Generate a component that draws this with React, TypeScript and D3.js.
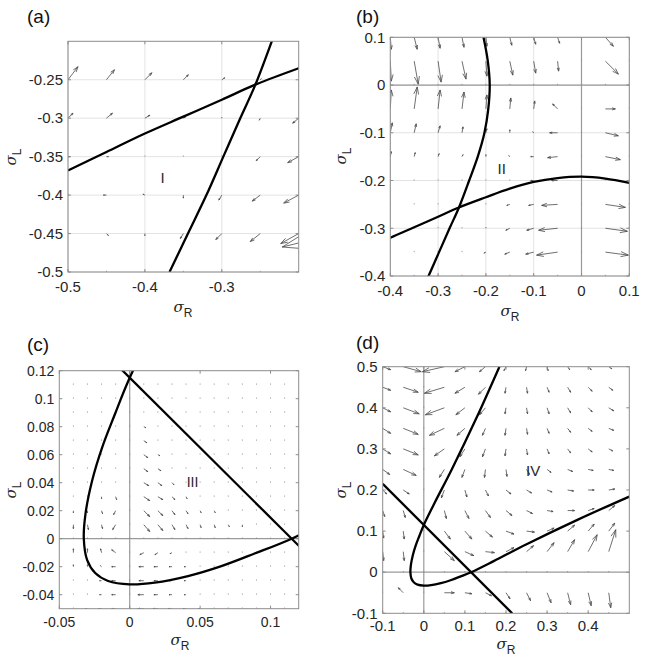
import React from 'react'
import * as d3 from 'd3'

// ---------- nullclines (sigma_R, sigma_L) ----------
const curveOne = [
  [-0.5, -0.368], [-0.45, -0.344], [-0.4, -0.32], [-0.35, -0.298], [-0.3, -0.276],
  [-0.258, -0.257], [-0.2, -0.235], [-0.15, -0.217], [-0.1, -0.203], [-0.05, -0.195],
  [0, -0.192], [0.05, -0.196], [0.1, -0.205],
]
const curveTwo = [
  [-0.368, -0.5], [-0.344, -0.45], [-0.32, -0.4], [-0.298, -0.35], [-0.276, -0.3],
  [-0.257, -0.258], [-0.235, -0.2], [-0.217, -0.15], [-0.203, -0.1], [-0.195, -0.05],
  [-0.192, 0], [-0.196, 0.05], [-0.205, 0.1],
]
const straightLine = [[-0.1, 0.215], [0.215, -0.1]]
const loopCurve = [
  [0.184, 0.5], [0.128, 0.375], [0.068, 0.25], [0.027, 0.17], [0, 0.115],
  [-0.0106, 0.0887], [-0.0196, 0.0651], [-0.0267, 0.0414], [-0.0314, 0.0178],
  [-0.0326, 0], [-0.0302, -0.0153], [-0.0245, -0.0245], [-0.0153, -0.0302],
  [0, -0.0326], [0.0178, -0.0314], [0.0414, -0.0267], [0.0651, -0.0196],
  [0.0887, -0.0106], [0.115, 0], [0.17, 0.027], [0.25, 0.068], [0.375, 0.128],
  [0.5, 0.184],
]

// ---------- quiver grids and arrows [sigma_R, sigma_L, dR, dL] ----------
const aGridR = [-0.5, -0.45, -0.4, -0.35, -0.3, -0.25, -0.2]
const aGridL = [-0.5, -0.45, -0.4, -0.35, -0.3, -0.25, -0.2]
const aArrows = [
  [-0.5, -0.25, 0.013, 0.017], [-0.45, -0.25, 0.0104, 0.013], [-0.4, -0.25, 0.0091, 0.0091],
  [-0.35, -0.25, 0.0065, 0.0065], [-0.3, -0.25, 0.0039, 0.0026], [-0.25, -0.25, 0.0013, 0.0013],
  [-0.2, -0.25, 0.0026, 0.0026],
  [-0.5, -0.3, 0.0065, 0.0065], [-0.45, -0.3, 0.0078, 0.0065], [-0.4, -0.3, 0.0065, 0.0039],
  [-0.35, -0.3, 0.0026, 0.0013], [-0.3, -0.3, 0.0008, 0], [-0.25, -0.3, -0.0013, -0.0026],
  [-0.2, -0.3, -0.0078, -0.0065],
  [-0.5, -0.35, 0.0026, 0], [-0.45, -0.35, 0.0026, 0], [-0.25, -0.35, -0.0052, -0.0052],
  [-0.2, -0.35, -0.0143, -0.0078],
  [-0.5, -0.4, -0.0013, 0], [-0.45, -0.4, -0.0039, 0], [-0.4, -0.4, -0.0026, 0.0013],
  [-0.35, -0.4, 0, -0.0039], [-0.3, -0.4, -0.0039, -0.0065], [-0.25, -0.4, -0.0104, -0.0078],
  [-0.2, -0.4, -0.0195, -0.0104],
  [-0.45, -0.45, 0.0026, -0.0026], [-0.4, -0.45, 0, -0.0026], [-0.35, -0.45, -0.0039, -0.0065],
  [-0.3, -0.45, -0.0078, -0.0078], [-0.25, -0.45, -0.013, -0.0104], [-0.2, -0.45, -0.0234, -0.013],
  [-0.15, -0.45, -0.0714, -0.0175],
]

const bGridR = [-0.4, -0.35, -0.3, -0.25, -0.2, -0.15, -0.1, -0.05, 0, 0.05, 0.1]
const bGridL = [-0.4, -0.35, -0.3, -0.25, -0.2, -0.15, -0.1, -0.05, 0, 0.05, 0.1]
const bArrows = [
  [-0.4, 0.1, 0.0021, -0.0251], [-0.35, 0.1, 0.0063, -0.0251], [-0.3, 0.1, 0.0042, -0.023],
  [-0.25, 0.1, 0.0042, -0.0209], [-0.2, 0.1, 0.0021, -0.0188], [-0.15, 0.1, 0.0042, -0.0167],
  [-0.1, 0.1, 0.0042, -0.0146], [-0.05, 0.1, 0.0042, -0.0125], [0.05, 0.1, 0.0167, -0.0188],
  [-0.4, 0.05, 0.0021, -0.0418], [-0.35, 0.05, 0.0084, -0.0481], [-0.3, 0.05, 0.0063, -0.0439],
  [-0.25, 0.05, 0.0084, -0.0376], [-0.2, 0.05, 0.0021, -0.0314], [-0.15, 0.05, 0.0063, -0.0293],
  [-0.1, 0.05, 0.0042, -0.0251], [-0.05, 0.05, 0.0021, -0.0209], [0.05, 0.05, 0.0272, -0.0272],
  [-0.4, -0.05, 0.0021, 0.0397], [-0.35, -0.05, 0.0063, 0.046], [-0.3, -0.05, 0.0042, 0.0397],
  [-0.25, -0.05, 0.0042, 0.0355], [-0.2, -0.05, 0.0021, 0.0293], [-0.15, -0.05, 0.0021, 0.023],
  [-0.1, -0.05, 0.0021, 0.0167], [-0.05, -0.05, -0.0105, 0.0105], [0.05, -0.05, 0.0209, 0],
  [-0.4, -0.1, 0.0042, 0.0209], [-0.35, -0.1, 0.0042, 0.0188], [-0.3, -0.1, 0.0042, 0.0146],
  [-0.25, -0.1, 0.0021, 0.0125], [-0.2, -0.1, 0.0021, 0.0084], [-0.15, -0.1, 0, 0.0063],
  [-0.1, -0.1, -0.0021, 0.0021], [-0.05, -0.1, -0.0167, 0], [0.05, -0.1, 0.0272, -0.0063],
  [-0.4, -0.15, 0.0021, 0.0105], [-0.35, -0.15, 0.0021, 0.0084], [-0.3, -0.15, 0.0021, 0.0063],
  [-0.25, -0.15, 0.0021, 0.0042], [-0.2, -0.15, 0, 0.0042], [-0.15, -0.15, -0.0021, 0.0021],
  [-0.1, -0.15, -0.0063, 0], [-0.05, -0.15, -0.0209, -0.0021], [0.05, -0.15, 0.0314, -0.0063],
  [-0.1, -0.2, -0.0063, 0], [-0.05, -0.2, -0.0125, 0],
  [-0.15, -0.25, -0.0063, -0.0021], [-0.1, -0.25, -0.0105, -0.0021],
  [-0.05, -0.25, -0.0334, -0.0021], [0.05, -0.25, 0.0418, -0.0063],
  [-0.2, -0.3, -0.0021, 0], [-0.15, -0.3, -0.0084, -0.0042], [-0.1, -0.3, -0.0146, -0.0042],
  [-0.05, -0.3, -0.0397, -0.0042], [0.05, -0.3, 0.046, -0.0063],
  [-0.2, -0.35, -0.0042, -0.0021], [-0.15, -0.35, -0.0105, -0.0042], [-0.1, -0.35, -0.0167, -0.0042],
  [-0.05, -0.35, -0.0439, -0.0063], [0.05, -0.35, 0.0481, -0.0063],
]

const cGridR = [-0.04, -0.03, -0.02, -0.01, 0, 0.01, 0.02, 0.03, 0.04, 0.05, 0.06, 0.07, 0.08, 0.09, 0.1, 0.11]
const cGridL = [-0.05, -0.04, -0.03, -0.02, -0.01, 0, 0.01, 0.02, 0.03, 0.04, 0.05, 0.06, 0.07, 0.08, 0.09, 0.1, 0.11, 0.12]
const cArrows = [
  [0.01, 0.08, 0.0014, -0.0007],
  [0.01, 0.07, 0.0021, -0.0014],
  [0.01, 0.06, 0.0028, -0.0021], [0.02, 0.06, 0.0014, -0.0007],
  [0.01, 0.05, 0.0028, -0.0021], [0.02, 0.05, 0.0021, -0.0014],
  [0.01, 0.04, 0.0035, -0.0021], [0.02, 0.04, 0.0028, -0.0021], [0.03, 0.04, 0.0014, -0.0014],
  [0.01, 0.03, 0.0042, -0.0028], [0.02, 0.03, 0.0035, -0.0021], [0.03, 0.03, 0.0021, -0.0021],
  [0.04, 0.03, 0.0007, -0.0014],
  [0.01, 0.02, 0.0042, -0.0042], [0.02, 0.02, 0.0035, -0.0035], [0.03, 0.02, 0.0021, -0.0028],
  [0.04, 0.02, 0.0014, -0.0021], [0.05, 0.02, 0.0007, -0.0014], [0.06, 0.02, 0.0007, -0.0014],
  [0.01, 0.01, 0.0042, -0.0049], [0.02, 0.01, 0.0035, -0.0042], [0.03, 0.01, 0.0021, -0.0035],
  [0.04, 0.01, 0.0014, -0.0028], [0.05, 0.01, 0.0007, -0.0021], [0.06, 0.01, 0.0007, -0.0021],
  [0.07, 0.01, 0.0007, -0.0014], [0.08, 0.01, 0, -0.0014],
  [-0.02, 0.03, 0, -0.0014], [-0.01, 0.03, 0.0007, -0.0021],
  [-0.04, 0.02, 0, -0.0014], [-0.03, 0.02, 0, -0.0014], [-0.02, 0.02, 0.0007, -0.0021],
  [-0.01, 0.02, -0.0014, -0.0028],
  [-0.04, 0.01, 0, -0.0028], [-0.03, 0.01, 0.0007, -0.0035], [-0.02, 0.01, 0.0007, -0.0028],
  [-0.01, 0.01, -0.0021, -0.0035],
  [-0.04, -0.01, 0, 0.0028], [-0.03, -0.01, 0, 0.0028], [-0.02, -0.01, -0.0007, 0.0028],
  [-0.01, -0.01, -0.0028, 0.0021],
  [-0.04, -0.02, 0, 0.0014], [-0.03, -0.02, 0, 0.0014], [-0.02, -0.02, -0.0007, 0.0007],
  [-0.01, -0.02, -0.0028, 0],
  [-0.02, -0.03, -0.0014, 0], [-0.01, -0.03, -0.0028, 0],
  [-0.02, -0.04, -0.0014, 0], [-0.01, -0.04, -0.0028, 0],
  [-0.03, -0.05, -0.0014, 0], [-0.02, -0.05, -0.0021, 0], [-0.01, -0.05, -0.0028, 0],
  [0.01, -0.01, -0.0028, -0.0014], [0.02, -0.01, -0.0021, -0.0014], [0.03, -0.01, -0.0014, -0.0007],
  [0.01, -0.02, -0.0035, 0], [0.02, -0.02, -0.0028, 0], [0.03, -0.02, -0.0021, 0], [0.04, -0.02, -0.0014, 0],
  [0.01, -0.03, -0.0035, 0], [0.02, -0.03, -0.0028, 0], [0.03, -0.03, -0.0021, 0], [0.04, -0.03, -0.0014, 0],
  [0.01, -0.04, -0.0042, 0], [0.02, -0.04, -0.0028, 0], [0.03, -0.04, -0.0021, 0], [0.04, -0.04, -0.0014, 0],
  [0.01, -0.05, -0.0042, 0], [0.02, -0.05, -0.0035, 0], [0.03, -0.05, -0.0028, 0], [0.04, -0.05, -0.0021, 0],
  [0.05, -0.05, -0.0014, 0],
]

const dGridR = [-0.1, -0.05, 0, 0.05, 0.1, 0.15, 0.2, 0.25, 0.3, 0.35, 0.4, 0.45]
const dGridL = [-0.1, -0.05, 0, 0.05, 0.1, 0.15, 0.2, 0.25, 0.3, 0.35, 0.4, 0.45, 0.5]
const dArrows = [
  [-0.1, 0.5, 0.0194, -0.0073], [-0.05, 0.5, 0.0437, -0.0122], [0.05, 0.5, -0.0535, -0.0122],
  [0.1, 0.5, -0.0243, -0.0122], [0.15, 0.5, -0.0146, -0.0122], [0.2, 0.5, -0.0049, -0.0097],
  [0.25, 0.5, -0.0024, -0.0097], [0.3, 0.5, 0.0024, -0.0097], [0.35, 0.5, 0.0049, -0.0073],
  [0.4, 0.5, 0.0073, -0.0073], [0.45, 0.5, 0.0073, -0.0049],
  [-0.1, 0.45, 0.0194, -0.0073], [-0.05, 0.45, 0.0365, -0.0122], [0.05, 0.45, -0.0486, -0.0146],
  [0.1, 0.45, -0.0243, -0.0146], [0.15, 0.45, -0.017, -0.017], [0.2, 0.45, -0.0024, -0.0146],
  [0.25, 0.45, 0.0024, -0.0146], [0.3, 0.45, 0.0049, -0.0122], [0.35, 0.45, 0.0073, -0.0122],
  [0.4, 0.45, 0.0097, -0.0097], [0.45, 0.45, 0.0097, -0.0073],
  [-0.1, 0.4, 0.0194, -0.0097], [-0.05, 0.4, 0.0389, -0.0146], [0.05, 0.4, -0.0462, -0.017],
  [0.1, 0.4, -0.0219, -0.017], [0.15, 0.4, -0.0146, -0.017], [0.2, 0.4, -0.0024, -0.0146],
  [0.25, 0.4, 0.0024, -0.0146], [0.3, 0.4, 0.0049, -0.0146], [0.35, 0.4, 0.0073, -0.0122],
  [0.4, 0.4, 0.0097, -0.0097], [0.45, 0.4, 0.0122, -0.0073],
  [-0.1, 0.35, 0.0194, -0.0122], [-0.05, 0.35, 0.0365, -0.0146], [0.05, 0.35, -0.0365, -0.017],
  [0.1, 0.35, -0.0194, -0.017], [0.15, 0.35, -0.0073, -0.017], [0.2, 0.35, -0.0024, -0.017],
  [0.25, 0.35, 0.0024, -0.0146], [0.3, 0.35, 0.0049, -0.0122], [0.35, 0.35, 0.0073, -0.0097],
  [0.4, 0.35, 0.0097, -0.0073], [0.45, 0.35, 0.0122, -0.0049],
  [-0.1, 0.3, 0.0194, -0.0122], [-0.05, 0.3, 0.0365, -0.0146], [0.05, 0.3, -0.0243, -0.017],
  [0.1, 0.3, -0.0122, -0.0194], [0.15, 0.3, -0.0073, -0.0194], [0.2, 0.3, -0.0024, -0.017],
  [0.25, 0.3, 0.0024, -0.0146], [0.3, 0.3, 0.0049, -0.0122], [0.35, 0.3, 0.0073, -0.0097],
  [0.4, 0.3, 0.0097, -0.0073], [0.45, 0.3, 0.0097, -0.0049],
  [-0.1, 0.25, 0.017, -0.0122], [-0.05, 0.25, 0.0316, -0.0146], [0.05, 0.25, -0.0122, -0.0194],
  [0.1, 0.25, -0.0073, -0.0194], [0.15, 0.25, -0.0024, -0.0194], [0.2, 0.25, 0.0024, -0.017],
  [0.25, 0.25, 0.0073, -0.0122], [0.3, 0.25, 0.0097, -0.0073], [0.35, 0.25, 0.0122, -0.0049],
  [0.4, 0.25, 0.0122, -0.0024], [0.45, 0.25, 0.0122, -0.0024],
  [-0.1, 0.2, 0.0097, -0.0097], [-0.05, 0.2, 0.0146, -0.0097], [0.05, 0.2, -0.0073, -0.0194],
  [0.1, 0.2, 0.0049, -0.017], [0.15, 0.2, 0.0073, -0.0146], [0.2, 0.2, 0.0122, -0.0097],
  [0.25, 0.2, 0.0122, -0.0073], [0.3, 0.2, 0.0122, -0.0049], [0.35, 0.2, 0.0146, -0.0024],
  [0.4, 0.2, 0.0146, 0], [0.45, 0.2, 0.0146, 0.0024],
  [-0.1, 0.15, 0.0049, -0.0146], [-0.05, 0.15, 0.0049, -0.017], [0.05, 0.15, 0.0049, -0.0194],
  [0.1, 0.15, 0.0097, -0.0194], [0.15, 0.15, 0.0122, -0.017], [0.2, 0.15, 0.0146, -0.0122],
  [0.25, 0.15, 0.0146, -0.0073], [0.3, 0.15, 0.0146, -0.0024], [0.35, 0.15, 0.017, 0],
  [0.4, 0.15, 0.0146, 0.0049], [0.45, 0.15, 0.0146, 0.0122],
  [-0.1, 0.1, 0.0024, -0.017], [-0.05, 0.1, 0.0024, -0.0194], [0.05, 0.1, 0.0146, -0.0194],
  [0.1, 0.1, 0.017, -0.0194], [0.15, 0.1, 0.017, -0.0146], [0.2, 0.1, 0.0194, -0.0073],
  [0.25, 0.1, 0.0194, -0.0024], [0.3, 0.1, 0.017, 0.0073], [0.35, 0.1, 0.017, 0.0146],
  [0.4, 0.1, 0.0146, 0.017], [0.45, 0.1, 0.0146, 0.0194],
  [-0.1, 0.05, 0.0024, -0.0219], [-0.05, 0.05, 0.0024, -0.0219], [0.05, 0.05, 0.0243, -0.0219],
  [0.1, 0.05, 0.0219, -0.0097], [0.15, 0.05, 0.0219, -0.0024], [0.2, 0.05, 0.0194, 0.0097],
  [0.25, 0.05, 0.017, 0.0146], [0.3, 0.05, 0.017, 0.0219], [0.35, 0.05, 0.017, 0.0292],
  [0.4, 0.05, 0.0219, 0.0413], [0.45, 0.05, 0.017, 0.0535],
  [-0.05, -0.05, -0.0122, 0.0122], [0.05, -0.05, 0.0243, 0], [0.1, -0.05, 0.017, -0.0024],
  [0.15, -0.05, 0.0146, -0.0073], [0.2, -0.05, 0.0097, -0.0146], [0.25, -0.05, 0.0097, -0.0194],
  [0.3, -0.05, 0.0097, -0.0243], [0.35, -0.05, 0.0073, -0.0292], [0.4, -0.05, 0.0073, -0.0316],
  [0.45, -0.05, 0.0049, -0.0365],
]

// ---------- ticks ----------
const aTicksX = [-0.5, -0.4, -0.3]
const aTicksY = [-0.5, -0.45, -0.4, -0.35, -0.3, -0.25]
const bTicksX = [-0.4, -0.3, -0.2, -0.1, 0, 0.1]
const bTicksY = [-0.4, -0.3, -0.2, -0.1, 0, 0.1]
const cTicksX = [-0.05, 0, 0.05, 0.1]
const cTicksY = [-0.04, -0.02, 0, 0.02, 0.04, 0.06, 0.08, 0.1, 0.12]
const dTicksX = [-0.1, 0, 0.1, 0.2, 0.3, 0.4]
const dTicksY = [-0.1, 0, 0.1, 0.2, 0.3, 0.4, 0.5]

const panels = [
  {
    tag: '(a)', tagPos: [27, 23], region: 'I', regionAt: [-0.377, -0.378],
    box: { left: 68, top: 41.3, right: 298.7, bottom: 272 },
    xDomain: [-0.5, -0.2], yDomain: [-0.5, -0.2],
    xTicks: aTicksX, yTicks: aTicksY, grid: true, zeroLines: false,
    curves: [curveOne, curveTwo], gridR: aGridR, gridL: aGridL, arrows: aArrows,
    fontSize: 15, xLabelAt: [183, 312], yLabelAt: [16, 157], tickGap: 20,
  },
  {
    tag: '(b)', tagPos: [356, 23], region: 'II', regionAt: [-0.167, -0.176],
    box: { left: 390.3, top: 37.3, right: 629.3, bottom: 276 },
    xDomain: [-0.4, 0.1], yDomain: [-0.4, 0.1],
    xTicks: bTicksX, yTicks: bTicksY, grid: true, zeroLines: true,
    curves: [curveOne, curveTwo], gridR: bGridR, gridL: bGridL, arrows: bArrows,
    fontSize: 15, xLabelAt: [510, 316], yLabelAt: [346, 156], tickGap: 20,
  },
  {
    tag: '(c)', tagPos: [27, 351], region: 'III', regionAt: [0.0446, 0.0406],
    box: { left: 59.3, top: 370.7, right: 298.7, bottom: 608.7 },
    xDomain: [-0.05, 0.12], yDomain: [-0.05, 0.12],
    xTicks: cTicksX, yTicks: cTicksY, grid: false, zeroLines: true,
    curves: [straightLine, loopCurve], gridR: cGridR, gridL: cGridL, arrows: cArrows,
    fontSize: 14, xLabelAt: [180, 645], yLabelAt: [16, 490], tickGap: 18,
  },
  {
    tag: '(d)', tagPos: [356, 349], region: 'IV', regionAt: [0.266, 0.246],
    box: { left: 382.7, top: 366.7, right: 629.3, bottom: 613.3 },
    xDomain: [-0.1, 0.5], yDomain: [-0.1, 0.5],
    xTicks: dTicksX, yTicks: dTicksY, grid: false, zeroLines: true,
    curves: [straightLine, loopCurve], gridR: dGridR, gridL: dGridL, arrows: dArrows,
    fontSize: 15, xLabelAt: [506, 649], yLabelAt: [346, 490], tickGap: 18,
  },
]

const fmt = (v: number) => String(+v.toFixed(3))

function Panel({ p, idx }: { p: any; idx: number }) {
  const { box } = p
  const x = d3.scaleLinear().domain(p.xDomain).range([box.left, box.right])
  const y = d3.scaleLinear().domain(p.yDomain).range([box.bottom, box.top])
  const line = d3.line<number[]>().x(d => x(d[0])).y(d => y(d[1])).curve(d3.curveCatmullRom.alpha(0.5))
  const clipId = 'clip' + idx
  const font = '"Liberation Sans", Arial, Helvetica, sans-serif'

  // quiver: explicit arrows plus tiny marks at the remaining grid nodes
  const key = (r: number, l: number) => r.toFixed(3) + ',' + l.toFixed(3)
  const have = new Set(p.arrows.map((a: number[]) => key(a[0], a[1])))
  const dots: number[][] = []
  p.gridR.forEach((r: number) => p.gridL.forEach((l: number) => {
    if (!have.has(key(r, l))) dots.push([r, l])
  }))

  const arrowPath = (a: number[]) => {
    const sx = x(a[0]), sy = y(a[1])
    const ex = x(a[0] + a[2]), ey = y(a[1] + a[3])
    const dx = ex - sx, dy = ey - sy
    const len = Math.hypot(dx, dy)
    if (len < 1.2) return `M${sx},${sy}l0,-1.2`
    const al = 0.33, be = 0.33
    const h1x = ex - al * (dx + be * dy), h1y = ey - al * (dy - be * dx)
    const h2x = ex - al * (dx - be * dy), h2y = ey - al * (dy + be * dx)
    return `M${sx},${sy}L${ex},${ey}M${h1x},${h1y}L${ex},${ey}L${h2x},${h2y}`
  }

  const tl = 3
  return (
    <g>
      <defs>
        <clipPath id={clipId}>
          <rect x={box.left} y={box.top} width={box.right - box.left} height={box.bottom - box.top} />
        </clipPath>
      </defs>
      {p.grid && (
        <g stroke="#e3e3e3" strokeWidth={1}>
          {p.xTicks.map((t: number) => <line key={'gx' + t} x1={x(t)} x2={x(t)} y1={box.top} y2={box.bottom} />)}
          {p.yTicks.map((t: number) => <line key={'gy' + t} x1={box.left} x2={box.right} y1={y(t)} y2={y(t)} />)}
        </g>
      )}
      {p.zeroLines && (
        <g stroke="#9a9a9a" strokeWidth={1.2}>
          <line x1={x(0)} x2={x(0)} y1={box.top} y2={box.bottom} />
          <line x1={box.left} x2={box.right} y1={y(0)} y2={y(0)} />
        </g>
      )}
      <g clipPath={`url(#${clipId})`}>
        <g fill="none" stroke="#4a4a4a" strokeWidth={0.8}>
          {p.arrows.map((a: number[], i: number) => <path key={'a' + i} d={arrowPath(a)} />)}
          {dots.map((d, i) => <path key={'d' + i} d={arrowPath([d[0], d[1], 0, 0])} stroke="#888" />)}
        </g>
        <g fill="none" stroke="#000" strokeWidth={2.3}>
          {p.curves.map((c: number[][], i: number) => <path key={'c' + i} d={line(c) || ''} />)}
        </g>
      </g>
      <rect x={box.left} y={box.top} width={box.right - box.left} height={box.bottom - box.top}
        fill="none" stroke="#8c8c8c" strokeWidth={1} />
      <g stroke="#8c8c8c" strokeWidth={1}>
        {p.xTicks.map((t: number) => (
          <g key={'tx' + t}>
            <line x1={x(t)} x2={x(t)} y1={box.bottom} y2={box.bottom - tl} />
            <line x1={x(t)} x2={x(t)} y1={box.top} y2={box.top + tl} />
          </g>
        ))}
        {p.yTicks.map((t: number) => (
          <g key={'ty' + t}>
            <line x1={box.left} x2={box.left + tl} y1={y(t)} y2={y(t)} />
            <line x1={box.right} x2={box.right - tl} y1={y(t)} y2={y(t)} />
          </g>
        ))}
      </g>
      <g fontFamily={font} fontSize={p.fontSize} fill="#262626">
        {p.xTicks.map((t: number) => (
          <text key={'lx' + t} x={x(t)} y={box.bottom + p.tickGap} textAnchor="middle">{fmt(t)}</text>
        ))}
        {p.yTicks.map((t: number) => (
          <text key={'ly' + t} x={box.left - 5} y={y(t)} dy="0.35em" textAnchor="end">{fmt(t)}</text>
        ))}
        <text x={x(p.regionAt[0])} y={y(p.regionAt[1])} dy="0.35em" textAnchor="middle">{p.region}</text>
      </g>
      <text x={p.tagPos[0]} y={p.tagPos[1]} fontFamily={font} fontSize={19} fill="#111">{p.tag}</text>
      <text x={p.xLabelAt[0]} y={p.xLabelAt[1]} textAnchor="middle" fill="#262626">
        <tspan fontFamily='"DejaVu Serif", serif' fontStyle="italic" fontSize={15}>σ</tspan>
        <tspan fontFamily={font} fontSize={12} dy={5}>R</tspan>
      </text>
      <text transform={`translate(${p.yLabelAt[0]},${p.yLabelAt[1]}) rotate(-90)`} textAnchor="middle" fill="#262626">
        <tspan fontFamily='"DejaVu Serif", serif' fontStyle="italic" fontSize={15}>σ</tspan>
        <tspan fontFamily={font} fontSize={12} dy={5}>L</tspan>
      </text>
    </g>
  )
}

export default function App() {
  return (
    <svg width={645} height={663} style={{ position: 'absolute', left: 0, top: 0, background: '#fff' }}>
      <rect width={645} height={663} fill="#fff" />
      {panels.map((p, i) => <Panel key={p.tag} p={p} idx={i} />)}
    </svg>
  )
}
